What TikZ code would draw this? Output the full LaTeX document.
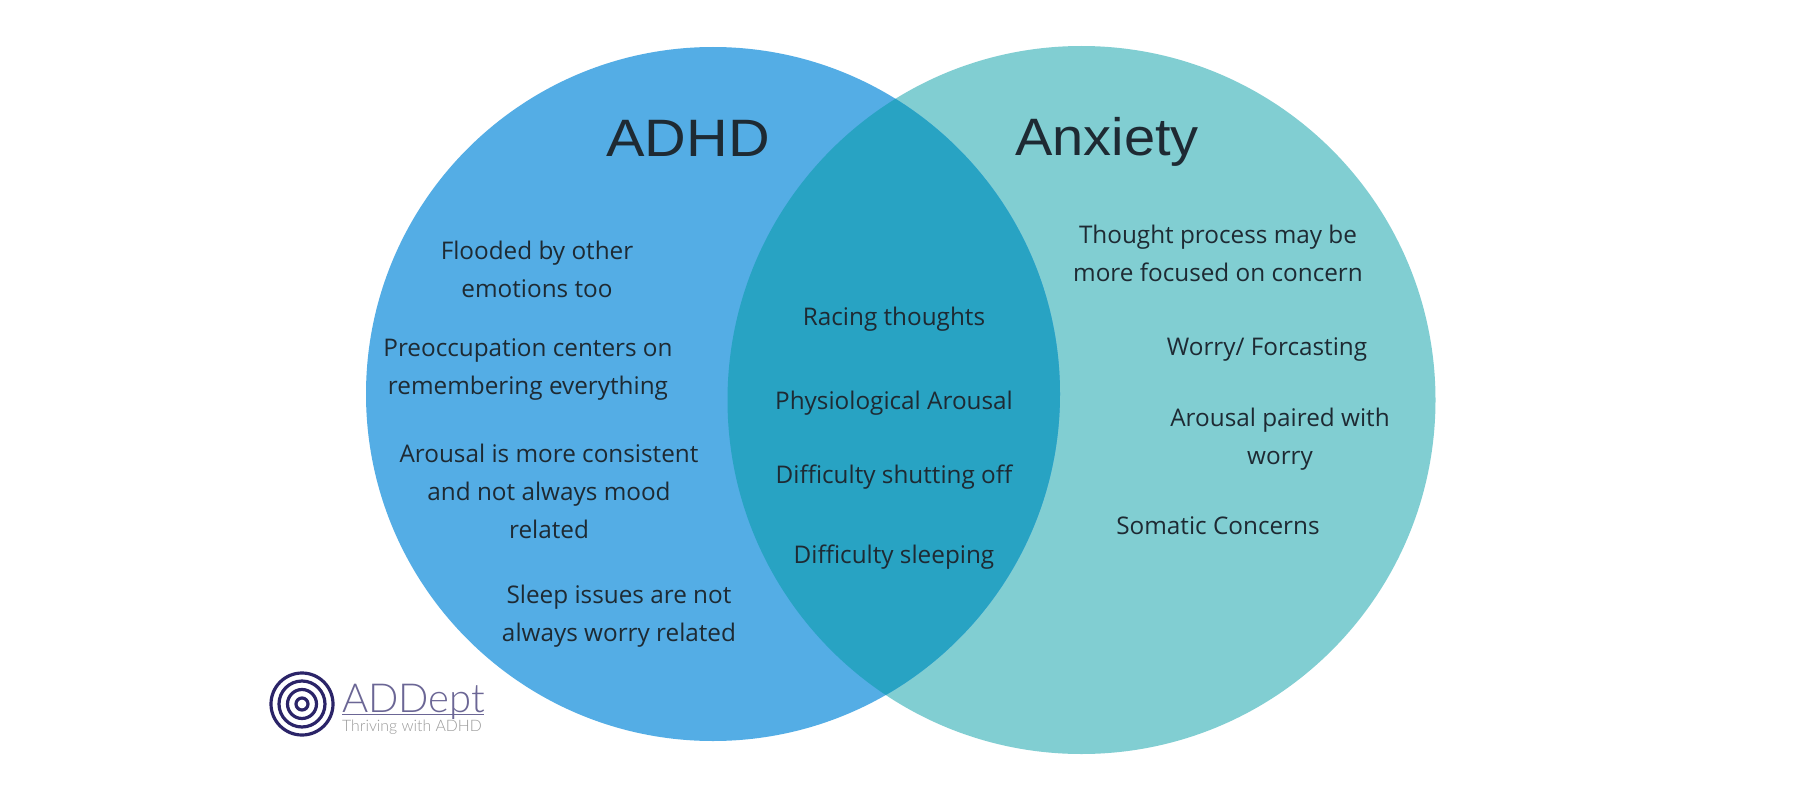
\documentclass[tikz,border=0pt]{standalone}
\usepackage{fontspec}
\setmainfont{Open Sans}
\newfontfamily\headfont{Liberation Sans}
\newfontfamily\logofont{Lato Light}
\definecolor{adhdblue}{HTML}{54ADE5}
\definecolor{anxteal}{HTML}{81CED2}
\definecolor{overlapc}{HTML}{28A3C3}
\definecolor{inkc}{HTML}{1E2A33}
\definecolor{logoc}{HTML}{2B2468}
\tikzset{
 x=1pt,y=-1pt,
 bodytext/.style={font=\fontsize{24.3}{38}\selectfont,text=inkc,align=center,inner sep=0pt},
 headtext/.style={font=\headfont\fontsize{56}{60}\selectfont,text=inkc,inner sep=0pt},
 ring/.style={draw=logoc,line width=3.2pt,circle,inner sep=0pt},
}
\begin{document}
\begin{tikzpicture}
\useasboundingbox (0,0) rectangle (1800,800);
\fill[white] (0,0) rectangle (1800,800);
\fill[anxteal] (1081.5,400) circle[radius=354];
\fill[adhdblue] (713,394) circle[radius=347];
\begin{scope}
\clip (713,394) circle[radius=347];
\fill[overlapc] (1081.5,400) circle[radius=354];
\end{scope}
\node[headtext,xscale=1.03,yscale=.94] (adhd) at (688,138) {ADHD};
\node[headtext,yscale=.94] (anx) at (1107,142) {Anxiety};
\node[bodytext] (a1) at (537,269) {Flooded by other\\emotions too};
\node[bodytext] (a2) at (528,369) {Preoccupation centers on\\remembering everything};
\node[bodytext] (a3) at (549,491) {Arousal is more consistent\\and not always mood\\related};
\node[bodytext] (a4) at (619,616) {Sleep issues are not\\always worry related};
\node[bodytext] (m1) at (894,319) {Racing thoughts};
\node[bodytext] (m2) at (894,403) {Physiological Arousal};
\node[bodytext] (m3) at (894,477) {Difficulty shutting off};
\node[bodytext] (m4) at (894,557) {Difficulty sleeping};
\node[bodytext] (r1) at (1218,253) {Thought process may be\\more focused on concern};
\node[bodytext] (r2) at (1267,349) {Worry/ Forcasting};
\node[bodytext] (r3) at (1280,439) {Arousal paired with\\worry};
\node[bodytext] (r4) at (1218,526) {Somatic Concerns};
\node[ring,minimum size=62pt] (l1) at (302,704) {};
\node[ring,minimum size=46pt] (l2) at (302,704) {};
\node[ring,minimum size=29pt] (l3) at (302,704) {};
\node[ring,minimum size=12pt] (l4) at (302,704) {};
\node[font=\logofont\fontsize{40}{40}\selectfont,text=logoc!70,inner sep=0pt,anchor=base west] (logoname) at (342,712) {ADDept};
\draw[logoc!70,line width=.6pt] (342,714) -- (484,714);
\node[font=\logofont\fontsize{15.8}{16}\selectfont,text=gray!80,inner sep=0pt,anchor=base west] (logotag) at (342,731) {Thriving with ADHD};
\end{tikzpicture}
\end{document}
